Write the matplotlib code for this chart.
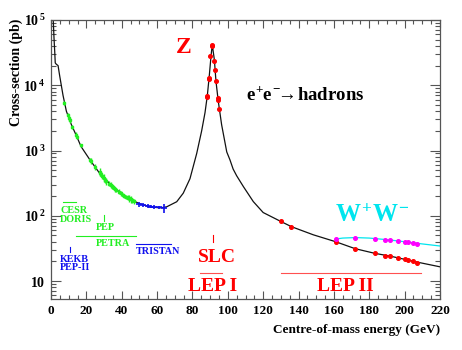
import matplotlib
matplotlib.use("Agg")
import matplotlib.pyplot as plt
from matplotlib.ticker import FixedLocator, FixedFormatter, MultipleLocator, LogLocator, NullFormatter

plt.rcParams['font.family'] = ['Liberation Serif', 'DejaVu Serif']
plt.rcParams['font.weight'] = 'bold'
plt.rcParams['mathtext.fontset'] = 'custom'
plt.rcParams['mathtext.rm'] = 'Liberation Serif:bold'
plt.rcParams['mathtext.bf'] = 'Liberation Serif:bold'
plt.rcParams['mathtext.it'] = 'Liberation Serif:bold'

# ---- theory curve: e+e- -> hadrons ----
curve_E = [1.2, 1.3, 1.7, 2.1, 2.4, 3.0, 4.0, 4.9, 6.8, 8.7, 11.5, 14.3, 17.0, 22.0, 27.7,
           35.2, 42.8, 50.3, 56.0, 61.7, 65.4, 71.1, 74.8, 78.6, 82.4, 85.2, 87.1, 88.4,
           89.5, 90.5, 91.2, 92.4, 93.3, 94.6, 96.5, 99.4, 101.2, 103.0, 105.0, 108.8,
           114.4, 120.0, 129.5, 136.0, 148.4, 161.0, 172.0, 183.0, 192.0, 200.0, 207.0, 220.0]
curve_sigma = [1.0e5, 9.5e4, 5.3e4, 3.3e4, 2.2e4, 2.1e4, 2.0e4, 1.4e4, 7.0e3, 4.0e3, 2.5e3,
               1.7e3, 1.15e3, 720, 440, 275, 190, 152, 137, 132, 137, 164, 222, 370, 900,
               2000, 3800, 6900, 13800, 28000, 41800, 24500, 11500, 5700, 2480, 950, 720,
               520, 410, 280, 165, 112, 83, 68, 51, 40, 31.3, 26.6, 24.0, 21.5, 19.5, 16.5]

# ---- W+W- curve ----
ww_curve_E = [161, 165, 172, 180, 190, 200, 210, 220]
ww_curve_sigma = [44.0, 45.5, 46.3, 45.5, 43.0, 40.0, 37.0, 34.4]

# ---- low-energy data (green: CESR/DORIS/PEP/PETRA) ----
green_E = [7.4, 9.4, 10.0, 10.5, 12.0, 14.0, 14.8, 17.0, 22.0, 22.5, 25.0, 27.5, 27.7, 28.0,
           29.0, 30.0, 30.8, 31.3, 33.0, 33.8, 34.5, 35.0, 35.4, 36.4, 37.0, 38.3, 39.8,
           40.5, 41.5, 42.5, 43.5, 44.2, 45.0, 46.0, 46.8]
green_sigma = [5300, 3500, 3100, 2900, 2300, 1750, 1600, 1200, 720, 700, 560, 450, 470, 430,
               400, 380, 350, 340, 310, 300, 285, 280, 270, 255, 250, 235, 220,
               210, 200, 195, 190, 185, 178, 172, 168]
green_err = [400, 250, 300, 250, 150, 150, 120, 80, 60, 80, 60, 40, 60, 40,
             30, 50, 30, 40, 25, 30, 25, 20, 20, 25, 20, 20, 20,
             15, 15, 15, 15, 20, 20, 15, 15]

# ---- TRISTAN data (blue) ----
blue_E = [50.0, 52.0, 55.0, 56.5, 58.0, 60.8, 64.0]
blue_sigma = [150, 146, 140, 138, 136, 134, 132]
blue_err = [15, 12, 10, 8, 10, 8, 20]

# ---- LEP data (red) ----
red_E = [88.4, 88.5, 89.4, 89.5, 90.2, 91.2, 91.25, 92.4, 92.9, 93.3, 94.3, 94.4, 95.0,
         130, 136, 161, 172, 183, 189, 192, 196, 200, 202, 205, 207]
red_sigma = [6600, 6900, 12900, 12300, 27800, 41800, 40500, 23800, 17300, 11500, 6380, 6000, 4380,
             83.2, 67.9, 39.6, 31.3, 26.6, 24.4, 24.2, 22.5, 21.5, 21.2, 20.0, 19.1]

# ---- W+W- data (magenta) ----
ww_E = [161, 172, 183, 189, 192, 196, 200, 202, 205, 207]
ww_sigma = [44.0, 46.1, 44.5, 42.1, 42.5, 40.6, 39.2, 39.2, 37.8, 36.5]

x_ticks = [0, 20, 40, 60, 80, 100, 120, 140, 160, 180, 200, 220]
y_ticks = [10, 100, 1000, 10000, 100000]
y_tick_labels = [r'$10\;\,$', r'$10^{\,2}$', r'$10^{\,3}$', r'$10^{\,4}$', r'$10^{\,5}$']

fig = plt.figure(figsize=(4.62, 3.5), dpi=100)
ax = fig.add_axes([51/462, 1-299/350, 389/462, 279/350])
ax.set_yscale('log')
ax.set_xlim(0, 220)
ax.set_ylim(5.3, 1e5)

GREEN = '#22ee22'
BLUE = '#1010ee'
RED = '#ff0000'
CYAN = '#00e5ee'
MAG = '#ff00ff'

ax.plot(curve_E, curve_sigma, color='#111111', lw=0.9, zorder=2)
ax.plot(ww_curve_E, ww_curve_sigma, color=CYAN, lw=0.9, zorder=2)

ax.errorbar(green_E, green_sigma, yerr=green_err, fmt='none', ecolor=GREEN, elinewidth=1.0, zorder=3)
ax.plot(green_E, green_sigma, ls='none', marker='s', ms=1.5, color=GREEN, zorder=3)
ax.errorbar(blue_E, blue_sigma, yerr=blue_err, fmt='none', ecolor=BLUE, elinewidth=1.2, zorder=3)
ax.plot(blue_E, blue_sigma, ls='none', marker='_', ms=4, mew=1.2, color=BLUE, zorder=3)
ax.plot(red_E, red_sigma, ls='none', marker='o', ms=2.6, color=RED, mec=RED, zorder=4)
ax.plot(ww_E, ww_sigma, ls='none', marker='o', ms=2.6, color=MAG, mec=MAG, zorder=4)

# ---- accelerator labels ----
def hline(x0, x1, y, c):
    ax.plot([x0, x1], [y, y], color=c, lw=0.8, zorder=3)

def vline(x, y0, y1, c):
    ax.plot([x, x], [y0, y1], color=c, lw=0.8, zorder=3)

def txt(x, y, s, c, size, ha='left'):
    ax.text(x, y, s, color=c, fontsize=size, fontweight='bold', ha=ha, va='baseline')

hline(7, 14.1, 161, GREEN)
txt(5.1, 109, 'CESR', GREEN, 7.3)
txt(5.1, 79.4, 'DORIS', GREEN, 7.3)
vline(30, 83, 103, GREEN)
txt(25.3, 60.5, 'PEP', GREEN, 7.3)
hline(14.1, 48.1, 49, GREEN)
txt(25.3, 34.4, 'PETRA', GREEN, 7.3)
hline(48.1, 67.7, 36.9, BLUE)
txt(48.1, 25.9, 'TRISTAN', BLUE, 7.3)
vline(10.9, 28.1, 33.6, BLUE)
txt(5.1, 19.8, 'KEKB', BLUE, 7.3)
txt(5.1, 14.9, 'PEP-II', BLUE, 7.3)

vline(91.8, 39.6, 50.7, RED)
txt(93.6, 19.6, 'SLC', RED, 14, ha='center')
hline(84.2, 96.5, 13.4, '#ff5050')
txt(91.6, 7.03, 'LEP I', RED, 14, ha='center')
hline(130, 209, 13.4, '#ff5050')
txt(166.3, 7.03, 'LEP II', RED, 14, ha='center')

txt(75.2, 30900, 'Z', RED, 17, ha='center')
txt(110.5, 5940, r'$e^{+}e^{-}\!\!\rightarrow\!$hadrons', 'black', 13.5)
txt(160.6, 80, r'$W^{+}W^{-}$', CYAN, 18)

# ---- axes styling ----
for sp in ax.spines.values():
    sp.set_color('#555555')
    sp.set_linewidth(0.9)

ax.xaxis.set_major_locator(FixedLocator(x_ticks))
ax.xaxis.set_minor_locator(MultipleLocator(5))
ax.yaxis.set_major_locator(FixedLocator(y_ticks))
ax.yaxis.set_major_formatter(FixedFormatter(y_tick_labels))
ax.yaxis.set_minor_locator(LogLocator(base=10, subs=range(2, 10)))
ax.yaxis.set_minor_formatter(NullFormatter())
ax.tick_params(which='both', direction='in', top=True, right=True, color='#555555', width=0.8)
ax.tick_params(axis='x', which='major', length=5.5, pad=4, labelsize=9.5)
ax.tick_params(axis='x', which='minor', length=3)
ax.tick_params(axis='y', which='major', length=7, pad=4, labelsize=10)
ax.tick_params(axis='y', which='minor', length=3.5)
for lab in ax.get_xticklabels() + ax.get_yticklabels():
    lab.set_fontweight('bold')

fig.text(440/462, 1-330/350, 'Centre-of-mass energy (GeV)', fontsize=9.5, fontweight='bold',
         ha='right', va='center')
fig.text(16.5/462, 1-72/350, 'Cross-section (pb)', fontsize=10, fontweight='bold',
         rotation=90, ha='center', va='center')

fig.savefig('out.png', dpi=100)
